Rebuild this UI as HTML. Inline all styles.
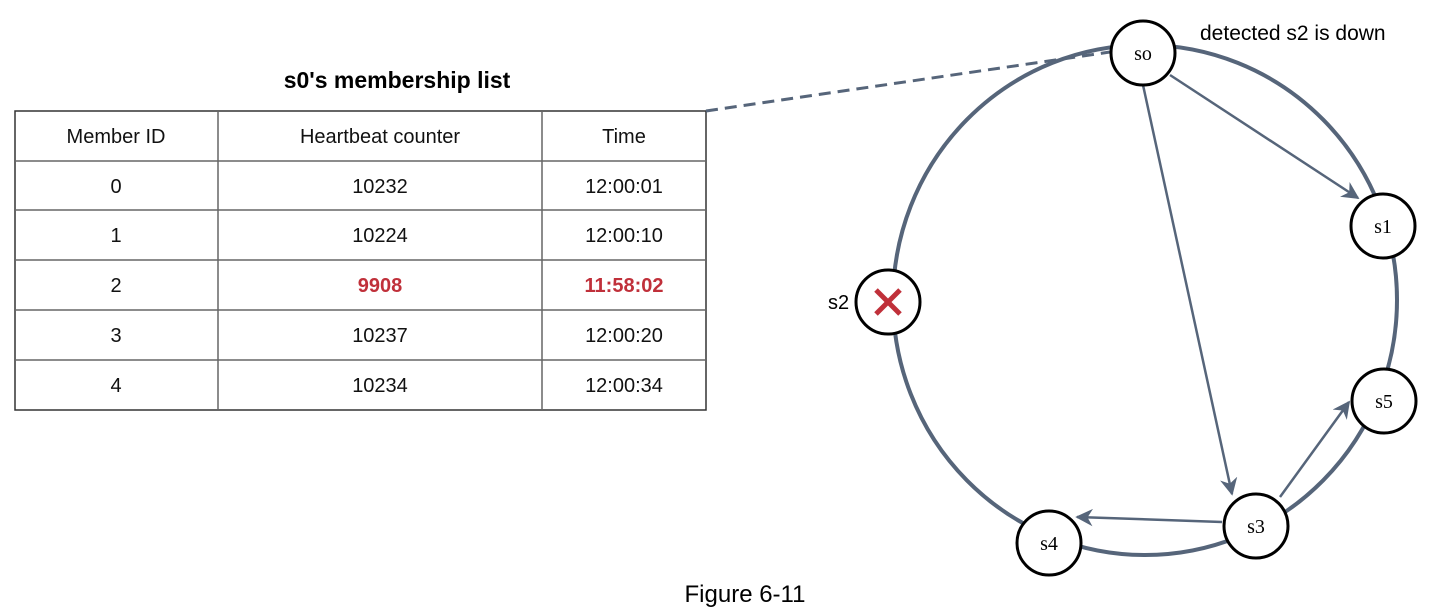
<!DOCTYPE html>
<html><head><meta charset="utf-8"><style>
body{margin:0;background:#fff;width:1429px;height:611px;overflow:hidden;font-family:"Liberation Sans",sans-serif}
</style></head><body>
<svg width="1429" height="611" viewBox="0 0 1429 611" xmlns="http://www.w3.org/2000/svg">
<defs><marker id="ah" viewBox="0 0 10 10" refX="9" refY="5" markerWidth="7" markerHeight="7" orient="auto" markerUnits="strokeWidth"><path d="M0,0 L10,5 L0,10 L3,5 z" fill="#56657a"/></marker></defs>
<text x="397" y="88" text-anchor="middle" font-size="23" font-weight="bold">s0's membership list</text>
<g stroke="#666" stroke-width="1.5" fill="none">
<rect x="15" y="111" width="691" height="299" stroke="#333"/>
<line x1="15" y1="161" x2="706" y2="161"/><line x1="15" y1="210" x2="706" y2="210"/><line x1="15" y1="260" x2="706" y2="260"/><line x1="15" y1="310" x2="706" y2="310"/><line x1="15" y1="360" x2="706" y2="360"/>
<line x1="218" y1="111" x2="218" y2="410"/><line x1="542" y1="111" x2="542" y2="410"/>
</g>
<g font-size="20" text-anchor="middle" fill="#111">
<text x="116" y="143">Member ID</text>
<text x="380" y="143">Heartbeat counter</text>
<text x="624" y="143">Time</text>
<text x="116" y="193">0</text><text x="380" y="193">10232</text><text x="624" y="193">12:00:01</text>
<text x="116" y="242">1</text><text x="380" y="242">10224</text><text x="624" y="242">12:00:10</text>
<text x="116" y="292">2</text><text x="380" y="292" fill="#c0303a" font-weight="bold">9908</text><text x="624" y="292" fill="#c0303a" font-weight="bold">11:58:02</text>
<text x="116" y="342">3</text><text x="380" y="342">10237</text><text x="624" y="342">12:00:20</text>
<text x="116" y="392">4</text><text x="380" y="392">10234</text><text x="624" y="392">12:00:34</text>
</g>
<line x1="706" y1="111" x2="1110" y2="52" stroke="#56657a" stroke-width="3" stroke-dasharray="12,7"/>
<ellipse cx="1145" cy="300" rx="252" ry="255" fill="none" stroke="#56657a" stroke-width="4"/>
<g stroke="#56657a" stroke-width="2.5" marker-end="url(#ah)">
<line x1="1170" y1="75" x2="1358" y2="198"/>
<line x1="1143" y1="85" x2="1232" y2="494"/>
<line x1="1222" y1="522" x2="1077" y2="517"/>
<line x1="1280" y1="497" x2="1349" y2="402"/>
</g>
<g stroke="#000" stroke-width="3" fill="#fff">
<circle cx="1143" cy="53" r="32"/>
<circle cx="1383" cy="226" r="32"/>
<circle cx="1384" cy="401" r="32"/>
<circle cx="1256" cy="526" r="32"/>
<circle cx="1049" cy="543" r="32"/>
<circle cx="888" cy="302" r="32"/>
</g>
<g font-family="Liberation Serif,serif" font-size="20" text-anchor="middle">
<text x="1143" y="60">so</text><text x="1383" y="233">s1</text><text x="1384" y="408">s5</text><text x="1256" y="533">s3</text><text x="1049" y="550">s4</text>
</g>
<g stroke="#c0303a" stroke-width="5"><line x1="876" y1="290" x2="900" y2="314"/><line x1="900" y1="290" x2="876" y2="314"/></g>
<text x="828" y="309" font-size="20">s2</text>
<text x="1200" y="40" font-size="21">detected s2 is down</text>
<text x="745" y="602" font-size="24" text-anchor="middle">Figure 6-11</text>
</svg>
</body></html>
